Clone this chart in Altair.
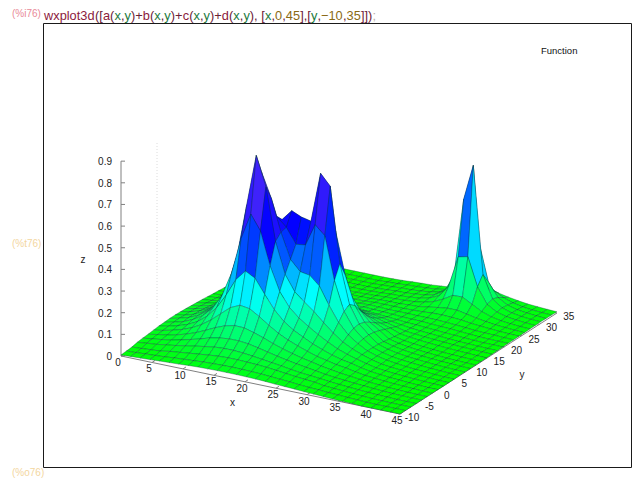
import altair as alt
import pandas as pd

# z values (thousandths): one row per y sample, 30 x samples in each row
Z_MILLI = [
[5,7,9,11,14,16,18,21,23,24,25,25,25,24,23,21,18,16,14,11,9,7,5,3,2,0,0,0,0,0],
[7,9,12,14,17,21,24,27,30,32,33,34,33,32,30,27,24,21,17,14,12,9,7,5,3,1,0,0,0,0],
[9,12,15,18,26,31,36,41,46,50,52,52,50,48,45,40,35,30,26,22,15,12,9,6,4,2,1,0,0,0],
[15,20,24,31,37,45,53,60,67,70,70,67,62,56,50,44,37,31,27,23,18,14,11,8,5,3,2,0,0,0],
[18,24,30,37,47,58,70,84,93,98,98,93,84,74,64,55,47,40,33,26,21,17,13,10,7,4,2,1,0,0],
[20,28,35,45,58,74,94,115,133,143,142,129,114,97,82,69,58,49,39,32,25,20,15,11,8,5,3,1,0,0],
[23,31,41,54,71,95,126,164,201,221,214,187,156,128,106,89,73,59,49,39,33,24,17,13,9,6,4,2,0,0],
[26,34,46,61,83,117,166,234,314,363,339,274,212,167,136,113,91,74,58,46,38,27,19,14,10,7,4,2,0,0],
[27,37,49,68,95,137,205,320,489,610,541,389,280,216,176,146,118,93,71,55,42,30,20,15,11,8,5,3,1,0],
[29,39,52,71,101,149,232,381,625,865,730,486,343,272,234,199,157,118,86,63,46,32,21,16,12,8,5,3,1,0],
[29,37,51,72,100,148,226,364,585,771,660,512,396,349,341,301,221,151,103,72,47,33,23,17,12,8,6,3,1,0],
[28,37,50,70,94,135,198,295,425,535,561,519,450,456,559,517,319,186,117,78,47,33,23,17,13,9,6,4,2,1],
[26,35,46,64,86,117,162,226,304,395,530,580,560,550,780,730,381,202,121,80,46,32,23,17,13,9,6,4,2,1],
[24,32,42,57,74,98,130,172,226,299,409,487,430,433,542,506,311,181,113,76,42,30,22,16,12,9,6,4,2,1],
[22,29,38,48,62,80,104,133,168,214,270,304,297,294,306,280,207,142,97,68,38,27,20,15,11,8,5,3,2,1],
[20,25,31,41,52,66,83,101,124,150,176,191,195,192,187,169,137,105,78,57,33,24,18,14,10,7,5,3,2,1],
[17,21,26,35,43,53,64,78,93,107,120,129,132,130,124,112,96,77,60,47,30,24,19,15,12,9,7,5,3,2],
[14,17,21,27,35,43,51,60,70,79,85,90,92,91,87,80,69,58,47,37,26,22,18,15,12,9,7,6,4,3],
[12,14,17,21,29,34,40,46,52,58,63,65,67,66,62,58,51,44,37,30,24,20,17,14,11,8,7,5,4,3],
[9,12,15,18,22,26,30,35,39,42,44,45,44,42,43,39,35,32,29,25,23,20,17,14,12,9,7,5,5,4],
[7,9,12,14,17,21,24,27,30,32,33,34,33,32,34,32,30,28,25,24,23,20,18,16,13,10,7,6,5,5],
[5,7,9,11,14,16,18,21,23,24,25,25,25,26,28,27,25,25,25,24,24,23,21,18,15,11,9,8,6,5],
[3,5,7,8,10,12,14,16,17,18,19,19,19,20,23,23,23,23,24,26,29,30,28,25,19,15,12,9,7,6],
[2,3,4,6,7,9,10,12,13,13,14,14,15,16,19,20,20,23,25,32,39,45,45,36,27,20,14,11,8,6],
[0,1,3,4,5,6,7,8,9,10,10,10,11,13,16,17,19,22,29,41,62,88,90,65,41,26,17,12,9,7],
[0,0,1,2,3,4,5,5,6,7,7,7,8,10,13,14,18,22,32,52,105,250,260,130,58,32,20,14,10,7],
[0,0,0,0,1,2,3,3,4,4,4,4,6,8,11,12,16,21,32,57,139,500,666,171,67,35,21,14,10,8],
[0,0,0,0,0,0,1,1,2,2,2,2,4,6,9,10,14,18,29,50,104,235,300,121,58,32,20,14,10,7],
[0,0,0,0,0,0,0,0,0,0,0,0,2,4,7,9,12,16,24,37,59,87,90,65,41,26,17,12,9,7],
[0,0,0,0,0,0,0,0,0,0,0,0,1,3,6,8,10,14,18,26,35,42,43,36,27,20,14,11,8,6],
]
X_TICKS = [0, 5, 10, 15, 20, 25, 30, 35, 40, 45]
Y_TICKS = [-10, -5, 0, 5, 10, 15, 20, 25, 30, 35]
Z_TICKS = [0, 0.1, 0.2, 0.3, 0.4, 0.5, 0.6, 0.7, 0.8, 0.9]
Z_LABELS = ["0", "0.1", "0.2", "0.3", "0.4", "0.5", "0.6", "0.7", "0.8", "0.9"]
COMMAND = [("wxplot3d", "f"), ("([", "p"), ("a", "f"), ("(", "p"), ("x", "v"), (",", "p"), ("y", "v"), (")+", "p"),
           ("b", "f"), ("(", "p"), ("x", "v"), (",", "p"), ("y", "v"), (")+", "p"),
           ("c", "f"), ("(", "p"), ("x", "v"), (",", "p"), ("y", "v"), (")+", "p"),
           ("d", "f"), ("(", "p"), ("x", "v"), (",", "p"), ("y", "v"), ("),", "p"),
           ("[", "p"), ("x", "v"), (",", "p"), ("0", "n"), (",", "p"), ("45", "n"), ("],[", "p"),
           ("y", "v"), (",", "p"), ("\u221210", "n"), (",", "p"), ("35", "n"), ("]])", "p"), (";", "s")]
# colour of a facet: mean height -> gradient stop
PALETTE_Z = [0.0, 0.27, 0.52, 1.15]
PALETTE_RGB = [(0, 255, 0), (0, 255, 255), (0, 0, 255), (238, 130, 238)]

W, H = 624, 471
NX, NY = len(Z_MILLI[0]), len(Z_MILLI)


def project(i, j, z):
    """Oblique view of a sample (i, j, z) onto page pixels."""
    return 121 + 9.62 * i + 5.41 * j, 356 + 2.0 * i - 3.48 * j - 216.5 * z


def palette(z):
    for k in range(3):
        if z <= PALETTE_Z[k + 1] or k == 2:
            f = min(1.0, (z - PALETTE_Z[k]) / (PALETTE_Z[k + 1] - PALETTE_Z[k]))
            c = [round(PALETTE_RGB[k][n] + (PALETTE_RGB[k + 1][n] - PALETTE_RGB[k][n]) * f) for n in range(3)]
            return "#%02x%02x%02x" % tuple(c)


quads = []
for j in range(NY - 1):
    for i in range(NX - 1):
        corners = [(i, j), (i + 1, j), (i + 1, j + 1), (i, j + 1)]
        zs = [Z_MILLI[b][a] / 1000 for a, b in corners]
        ring = [list(project(a, b, z)) for (a, b), z in zip(corners, zs)]
        ring = [[p[0] - 8, p[1] - 8] for p in ring]
        ring.append(ring[0])
        depth = 2.0 * (i + 0.5) - 3.48 * (j + 0.5)
        quads.append((depth, {
            "type": "Feature",
            "geometry": {"type": "Polygon", "coordinates": [ring]},
            "properties": {"col": palette(sum(zs) / 4)},
        }))
quads.sort(key=lambda q: q[0])
features = [q[1] for q in quads]

sx = alt.Scale(domain=[8, 8 + W], nice=False, zero=False)
sy = alt.Scale(domain=[8 + H, 8], nice=False, zero=False)
X = lambda f: alt.X(f, type="quantitative", scale=sx, axis=None)
Y = lambda f: alt.Y(f, type="quantitative", scale=sy, axis=None)
X2 = lambda f: alt.X2(f)
Y2 = lambda f: alt.Y2(f)

# --- axes
segments = []
c00 = project(0, 0, 0)
c10 = project(NX - 1, 0, 0)
c11 = project(NX - 1, NY - 1, 0)
ctop = project(0, 0, 0.9)
segments += [(*c00, *c10), (*c10, *c11), (*c00, *ctop)]
xt, yt, zt = [], [], []
for v in X_TICKS:
    i = v / 45 * (NX - 1)
    a = project(i, 0, 0)
    b = project(i, 0.55, 0)
    segments.append((*a, *b))
    xt.append({"x": a[0] - 3, "y": a[1] + 7, "t": str(v)})
for v in Y_TICKS:
    j = (v + 10) / 45 * (NY - 1)
    a = project(NX - 1, j, 0)
    b = project(NX - 1.4, j, 0)
    segments.append((*a, *b))
    yt.append({"x": a[0] + 12, "y": a[1] + 4, "t": str(v)})
for v, s in zip(Z_TICKS, Z_LABELS):
    a = project(0, 0, v)
    segments.append((a[0], a[1], a[0] + 4, a[1]))
    zt.append({"x": a[0] - 9, "y": a[1] + 1, "t": s})

seg = pd.DataFrame(segments, columns=["x", "y", "x2", "y2"])
axes = alt.Chart(seg).mark_rule(color="#808080", strokeWidth=1).encode(
    x=X("x"), y=Y("y"), x2=X2("x2"), y2=Y2("y2"))

FONT = dict(font="Liberation Sans", fontSize=10, color="#222222", baseline="middle")
zt_text = alt.Chart(pd.DataFrame(zt)).mark_text(align="right", **FONT).encode(
    x=X("x"), y=Y("y"), text="t:N")
xy_labels = pd.DataFrame([{"x": 232.5, "y": 403, "t": "x"}, {"x": 522, "y": 375, "t": "y"}, {"x": 83, "y": 260, "t": "z"}])
name_text = alt.Chart(xy_labels).mark_text(align="center", **FONT).encode(
    x=X("x"), y=Y("y"), text="t:N")
xy_tick_text = alt.Chart(pd.DataFrame(xt + yt)).mark_text(align="center", **FONT).encode(
    x=X("x"), y=Y("y"), text="t:N")

legend = alt.Chart(pd.DataFrame([{"x": 541, "y": 51, "t": "Function"}])).mark_text(
    font="Liberation Sans", fontSize=9.5, color="#111111", align="left", baseline="middle").encode(x=X("x"), y=Y("y"), text="t:N")

faint = alt.Chart(pd.DataFrame([{"x": 157, "y": 143, "y2": 320}])).mark_rule(color="#dcdcdc", strokeWidth=1, strokeDash=[1, 2]).encode(
    x=X("x"), y=Y("y"), y2=Y2("y2"))

frame = alt.Chart(pd.DataFrame([{"x": 43.5, "x2": 631.5, "y": 23.5, "y2": 467.5}])).mark_rect(
    fillOpacity=0, stroke="#1a1a1a", strokeWidth=1).encode(x=X("x"), x2=X2("x2"), y=Y("y"), y2=Y2("y2"))

surface = alt.Chart(alt.Data(values=features)).mark_geoshape(
    stroke="#06303a", strokeWidth=0.55, strokeOpacity=0.6).encode(
    color=alt.Color("properties.col:N", scale=None)
).project(type="identity", scale=1, translate=[0, 0])

# --- wxMaxima input line
WIDTHS = {"w": 722, "x": 500, "p": 556, "l": 222, "o": 556, "t": 278, "d": 556, "a": 556, "b": 556, "c": 500, "y": 500,
          "(": 333, ")": 333, "[": 278, "]": 278, ",": 278, ";": 278, "+": 584, "\u2212": 584}
COLORS = {"f": "#8c1a3c", "p": "#6a2036", "v": "#1c7a3e", "n": "#8a6a14", "s": "#b9b0a8"}
rows, cx = [], 44.0
for tok, kind in COMMAND:
    rows.append({"x": cx, "y": 19.8, "t": tok, "c": COLORS[kind]})
    cx += sum(WIDTHS.get(ch, 556) for ch in tok) * 0.01293
    if tok == "),":
        cx += 278 * 0.01293
cmd = alt.Chart(pd.DataFrame(rows)).mark_text(font="Liberation Sans", fontSize=12.8, align="left", baseline="alphabetic").encode(
    x=X("x"), y=Y("y"), text="t:N", color=alt.Color("c:N", scale=None))

prompts = pd.DataFrame([
    {"x": 12, "y": 14, "t": "(%i76)", "c": "#e98a98"},
    {"x": 12, "y": 244, "t": "(%t76)", "c": "#f3d6a0"},
    {"x": 12, "y": 473, "t": "(%o76)", "c": "#f3d6a0"},
])
prompt = alt.Chart(prompts).mark_text(font="Liberation Sans", fontSize=10, align="left", baseline="middle").encode(
    x=X("x"), y=Y("y"), text="t:N", color=alt.Color("c:N", scale=None))

chart = alt.layer(
    frame, faint, axes, surface, xy_tick_text, zt_text, name_text, legend, cmd, prompt
).properties(width=W, height=H, padding=0, background="white",
             autosize=alt.AutoSizeParams(type="none")).configure_view(stroke=None)

chart.save("out.html", embed_options={"renderer": "svg", "actions": False})
